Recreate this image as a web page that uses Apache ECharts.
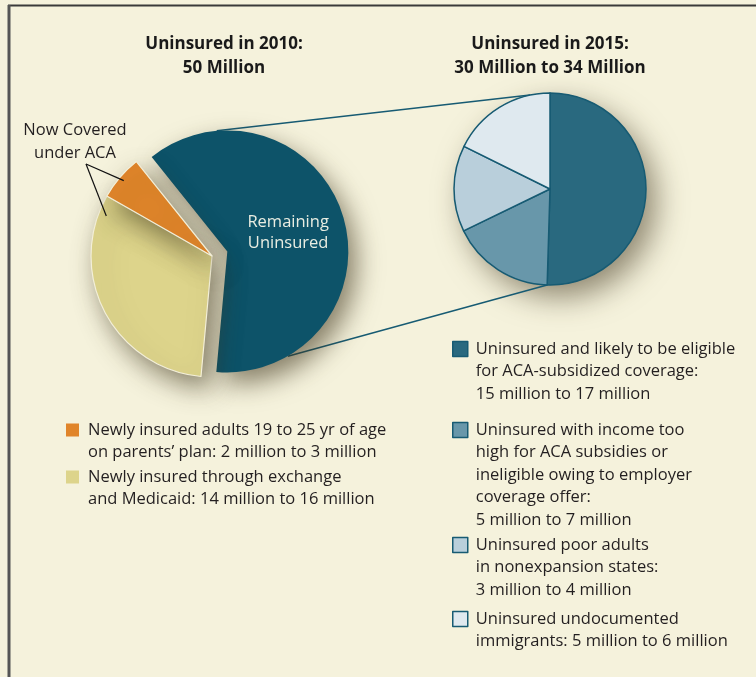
<!DOCTYPE html>
<html>
<head>
<meta charset="utf-8">
<script src="https://cdn.jsdelivr.net/npm/echarts@6/dist/echarts.min.js"></script>
<style>
  html, body { margin: 0; padding: 0; background: #f5f2dc; }
  #chart { width: 756px; height: 677px; }
</style>
</head>
<body>
<div id="chart"></div>
<script>
// 2010: 50 million uninsured (millions)
const names2010 = ["Remaining Uninsured", "Exchange and Medicaid", "Parents’ plan"];
const values2010 = [31.1, 15.9, 3.0];
// 2015: 30 to 34 million uninsured (millions)
const names2015 = ["Eligible for subsidies", "Income too high", "Poor adults", "Undocumented"];
const values2015 = [16, 5.5, 4.6, 5.6];

// legend texts
const legendNames2010 = ["Parents’ plan", "Exchange and Medicaid"];
const legendText2010 = [
  "Newly insured adults 19 to 25 yr of age\non parents’ plan: 2 million to 3 million",
  "Newly insured through exchange\nand Medicaid: 14 million to 16 million",
];
const legendText2015 = [
  "Uninsured and likely to be eligible\nfor ACA-subsidized coverage:\n15 million to 17 million",
  "Uninsured with income too\nhigh for ACA subsidies or\nineligible owing to employer\ncoverage offer:\n5 million to 7 million",
  "Uninsured poor adults\nin nonexpansion states:\n3 million to 4 million",
  "Uninsured undocumented\nimmigrants: 5 million to 6 million",
];

const FONT = "Open Sans";
const FS = 16.5;
const BG = "#f5f2dc";
const colors2010 = ["#0d5369", "#ddd48b", "#e0852a"];
const colors2015 = ["#29697f", "#6897aa", "#b9cfdb", "#dfe9ef"];
const EDGE = "#175b73";

// pie layout
const pieL = { cx: 212, cy: 256, r: 121, offset: 16, start: 128.7 };
const pieR = { cx: 550, cy: 189, r: 96 };

const sum = (a) => a.reduce((s, v) => s + v, 0);
const pt = (cx, cy, r, deg) => {
  const a = (deg * Math.PI) / 180;
  return [cx + r * Math.sin(a), cy - r * Math.cos(a)];
};

// centre of the pulled-out slice
const sweep0 = (values2010[0] / sum(values2010)) * 360;
const bis = 90 - pieL.start + sweep0 / 2;
const [dcx, dcy] = pt(pieL.cx, pieL.cy, pieL.offset, bis);
const topA = pt(dcx, dcy, pieL.r, -5);
const topB = pt(pieR.cx, pieR.cy, pieR.r, -12);
const botA = pt(dcx, dcy, pieL.r, 150);
const botB = pt(pieR.cx, pieR.cy, pieR.r, (values2015[0] / sum(values2015)) * 360);

// annotation pointers
const cum1 = (90 - pieL.start) + sweep0 + (values2010[1] / sum(values2010)) * 360;
const ptrFrom = [86, 164];
const ptrOrange = pt(pieL.cx, pieL.cy, 116, cum1 + ((values2010[2] / sum(values2010)) * 360) / 2);
const ptrYellow = pt(pieL.cx, pieL.cy, 113, cum1 - 9);

const LH = 22.5;
// legend item: one per entry so gaps can differ.
// blank lines on top keep the icon level with the first text line
function legendItem(name, text, left, iconCenter, size, padLeft, border) {
  const lines = text.split("\n").length;
  const shown = "\n".repeat(lines - 1) + text;
  return {
    data: [name],
    orient: "vertical",
    left: left,
    top: iconCenter - ((2 * lines - 1) * LH) / 2,
    padding: 0,
    icon: "rect",
    itemWidth: size,
    itemHeight: size,
    selectedMode: false,
    formatter: () => shown,
    itemStyle: {
      borderColor: border ? EDGE : "transparent",
      borderWidth: border ? 1.5 : 0,
      shadowBlur: 0,
      shadowColor: "transparent",
    },
    textStyle: {
      fontFamily: FONT,
      fontSize: FS,
      color: "#231f20",
      lineHeight: LH,
      padding: [0, 0, 0, padLeft],
    },
  };
}

const iconY2010 = [430, 477];
const iconY2015 = [349, 430, 545, 619];
const legends = [];
legendNames2010.forEach((n, i) => legends.push(legendItem(n, legendText2010[i], 66, iconY2010[i], 13, 4, false)));
names2015.forEach((n, i) => legends.push(legendItem(n, legendText2015[i], 452, iconY2015[i], 15, 3, true)));

const titleStyle = { fontFamily: FONT, fontSize: 17, fontWeight: "bold", lineHeight: 24, color: "#1a1a1a" };

const chart = echarts.init(document.getElementById("chart"));
chart.setOption({
  backgroundColor: BG,
  animation: false,
  title: [
    { text: "Uninsured in 2010:\n50 Million", left: 224, top: 32, padding: 0, textAlign: "center", textStyle: titleStyle },
    { text: "Uninsured in 2015:\n30 Million to 34 Million", left: 550, top: 32, padding: 0, textAlign: "center", textStyle: titleStyle },
  ],
  legend: legends,
  graphic: [
    // frame
    { type: "line", shape: { x1: 8, y1: 5.5, x2: 756, y2: 5.5 }, style: { stroke: "#3a3a3a", lineWidth: 2 } },
    { type: "line", shape: { x1: 9, y1: 5, x2: 9, y2: 677 }, style: { stroke: "#555", lineWidth: 3 } },
    // shadow behind 2015 pie
    {
      type: "circle", z: 0,
      shape: { cx: pieR.cx, cy: pieR.cy, r: pieR.r },
      style: { fill: colors2015[0], shadowBlur: 30, shadowOffsetX: 10, shadowOffsetY: 12, shadowColor: "rgba(60,50,25,0.55)" },
    },
    // connectors
    { type: "line", z: 0, shape: { x1: topA[0], y1: topA[1], x2: topB[0], y2: topB[1] }, style: { stroke: EDGE, lineWidth: 1.5 } },
    { type: "line", z: 0, shape: { x1: botA[0], y1: botA[1], x2: botB[0], y2: botB[1] }, style: { stroke: EDGE, lineWidth: 1.5 } },
    // annotation
    {
      type: "text", z: 10, x: 75, y: 141.5,
      style: { text: "Now Covered\nunder ACA", fontFamily: FONT, fontSize: FS, lineHeight: 23, fill: "#231f20", align: "center", verticalAlign: "middle" },
    },
    { type: "line", z: 10, shape: { x1: ptrFrom[0], y1: ptrFrom[1], x2: ptrOrange[0], y2: ptrOrange[1] }, style: { stroke: "#111", lineWidth: 1.2 } },
    { type: "line", z: 10, shape: { x1: ptrFrom[0], y1: ptrFrom[1], x2: ptrYellow[0], y2: ptrYellow[1] }, style: { stroke: "#111", lineWidth: 1.2 } },
  ],
  series: [
    {
      name: "2010",
      type: "pie",
      center: [pieL.cx, pieL.cy],
      radius: [0, pieL.r],
      startAngle: pieL.start,
      clockwise: true,
      selectedMode: "single",
      selectedOffset: pieL.offset,
      emphasis: { disabled: true },
      labelLine: { show: false },
      data: names2010.map((n, i) => ({
        name: n,
        value: values2010[i],
        selected: i === 0,
        itemStyle: {
          color: colors2010[i],
          borderColor: i === 0 ? colors2010[0] : "#f3efd8",
          borderWidth: i === 0 ? 0 : 1.2,
          shadowBlur: 26,
          shadowOffsetX: 8,
          shadowOffsetY: 11,
          shadowColor: "rgba(60,50,25,0.6)",
        },
        label: {
          show: i === 0,
          position: "inside",
          formatter: "Remaining\nUninsured",
          fontFamily: FONT,
          fontSize: FS,
          lineHeight: 21,
          color: "#e9ede2",
          offset: [-6, 1],
        },
      })),
    },
    {
      name: "2015",
      type: "pie",
      center: [pieR.cx, pieR.cy],
      radius: [0, pieR.r],
      startAngle: 90,
      clockwise: true,
      emphasis: { disabled: true },
      label: { show: false },
      labelLine: { show: false },
      data: names2015.map((n, i) => ({
        name: n,
        value: values2015[i],
        itemStyle: { color: colors2015[i], borderColor: EDGE, borderWidth: 1.5 },
      })),
    },
  ],
});
</script>
</body>
</html>
